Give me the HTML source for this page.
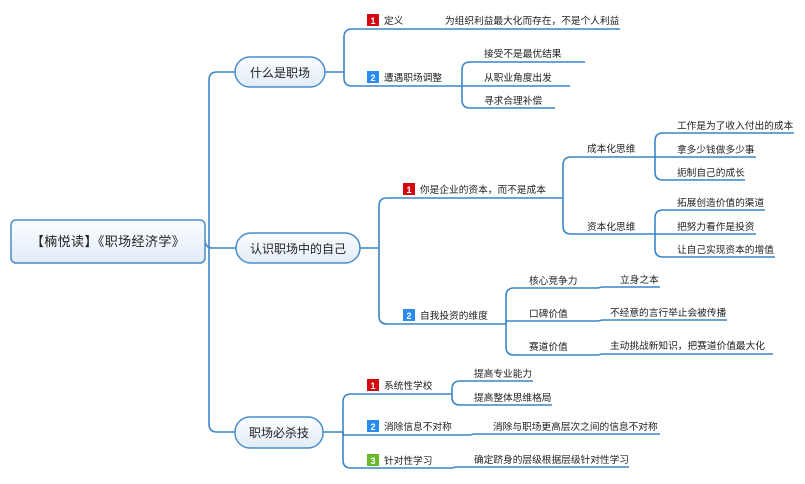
<!DOCTYPE html>
<html><head><meta charset="utf-8"><style>
html,body{margin:0;padding:0;background:#fff}
svg{display:block}
text{font-family:"Liberation Sans","Noto Sans CJK SC",sans-serif;fill:#222}
.l{fill:none;stroke:#3a85c6;stroke-width:1.6}
.t{font-size:9.7px}
.b{font-size:9px;font-weight:bold;fill:#fff}
</style></head><body>
<svg width="805" height="484" viewBox="0 0 805 484" xmlns="http://www.w3.org/2000/svg">
<defs>
<linearGradient id="g" x1="0" y1="0" x2="0" y2="1"><stop offset="0" stop-color="#fbfdff"/><stop offset="1" stop-color="#e2ecf7"/></linearGradient>
</defs>
<!-- trunk -->
<path class="l" d="M205 241 Q206 248 212 248 H236"/>
<path class="l" d="M209 248 V80 Q209 72 217 72 H235"/>
<path class="l" d="M209 248 V424 Q209 432 217 432 H235"/>

<!-- branch 1 -->
<path class="l" d="M325 72 H344"/>
<path class="l" d="M344 72 V37 Q344 29 352 29 H620"/>
<path class="l" d="M344 72 V78 Q344 86 352 86 H462"/>
<path class="l" d="M462 86 V70 Q462 62 470 62 H585"/>
<path class="l" d="M462 86 H570"/>
<path class="l" d="M462 86 V100 Q462 108 470 108 H555"/>

<!-- branch 2 -->
<path class="l" d="M360 248 H379"/>
<path class="l" d="M379 248 V206 Q379 198 387 198 H563"/>
<path class="l" d="M379 248 V316 Q379 324 387 324 H506"/>
<path class="l" d="M563 198 V165 Q563 157 571 157 H655"/>
<path class="l" d="M563 198 V226 Q563 234 571 234 H655"/>
<path class="l" d="M655 157 V141 Q655 133 663 133 H794"/>
<path class="l" d="M655 157 H756"/>
<path class="l" d="M655 157 V172 Q655 180 663 180 H745"/>
<path class="l" d="M655 234 V218 Q655 210 663 210 H765"/>
<path class="l" d="M655 234 H756"/>
<path class="l" d="M655 234 V249 Q655 257 663 257 H775"/>
<path class="l" d="M506 324 V296 Q506 288 514 288 H598 L602 287 H660"/>
<path class="l" d="M506 324 V321 H598 L602 320 H727"/>
<path class="l" d="M506 324 V347 Q506 355 514 355 H598 L602 354 H773"/>

<!-- branch 3 -->
<path class="l" d="M323 432 H343"/>
<path class="l" d="M343 432 V402 Q343 394 351 394 H452"/>
<path class="l" d="M343 432 V435 H470 L474 434 H660"/>
<path class="l" d="M343 432 V460 Q343 468 351 468 H452 L456 467 H629"/>
<path class="l" d="M452 394 V389 Q452 381 460 381 H533"/>
<path class="l" d="M452 394 V397 Q452 405 460 405 H552"/>

<!-- nodes -->
<rect x="11" y="220" width="194" height="43" rx="5" fill="url(#g)" stroke="#4a8cc8" stroke-width="1.5"/>
<text x="108" y="246" text-anchor="middle" font-size="13" letter-spacing="0.4">【楠悦读】《职场经济学》</text>
<rect x="235" y="57" width="90" height="30" rx="15" fill="url(#g)" stroke="#4a8cc8" stroke-width="1.5"/>
<text x="280" y="77" text-anchor="middle" font-size="12">什么是职场</text>
<rect x="236" y="233" width="124" height="30" rx="15" fill="url(#g)" stroke="#4a8cc8" stroke-width="1.5"/>
<text x="298" y="253" text-anchor="middle" font-size="12">认识职场中的自己</text>
<rect x="235" y="417" width="88" height="31" rx="15" fill="url(#g)" stroke="#4a8cc8" stroke-width="1.5"/>
<text x="279" y="437" text-anchor="middle" font-size="12">职场必杀技</text>

<!-- badges -->
<rect x="367" y="14" width="12" height="12" fill="#d4070f"/><text class="b" x="373" y="24" text-anchor="middle">1</text>
<rect x="367" y="71" width="12" height="12" fill="#2a8cf0"/><text class="b" x="373" y="81" text-anchor="middle">2</text>
<rect x="403" y="183" width="12" height="12" fill="#d4070f"/><text class="b" x="409" y="193" text-anchor="middle">1</text>
<rect x="403" y="309" width="12" height="12" fill="#2a8cf0"/><text class="b" x="409" y="319" text-anchor="middle">2</text>
<rect x="367" y="379" width="12" height="12" fill="#d4070f"/><text class="b" x="373" y="389" text-anchor="middle">1</text>
<rect x="367" y="420" width="12" height="12" fill="#2a8cf0"/><text class="b" x="373" y="430" text-anchor="middle">2</text>
<rect x="367" y="454" width="12" height="12" fill="#6ab82b"/><text class="b" x="373" y="464" text-anchor="middle">3</text>

<!-- labels -->
<text class="t" x="384" y="24">定义</text>
<text class="t" x="445" y="24">为组织利益最大化而存在，不是个人利益</text>
<text class="t" x="384" y="81">遭遇职场调整</text>
<text class="t" x="484" y="57">接受不是最优结果</text>
<text class="t" x="484" y="81">从职业角度出发</text>
<text class="t" x="484" y="104">寻求合理补偿</text>

<text class="t" x="420" y="193">你是企业的资本，而不是成本</text>
<text class="t" x="587" y="152">成本化思维</text>
<text class="t" x="587" y="230">资本化思维</text>
<text class="t" x="677" y="129">工作是为了收入付出的成本</text>
<text class="t" x="677" y="153">拿多少钱做多少事</text>
<text class="t" x="677" y="176">扼制自己的成长</text>
<text class="t" x="677" y="206">拓展创造价值的渠道</text>
<text class="t" x="677" y="230">把努力看作是投资</text>
<text class="t" x="677" y="253">让自己实现资本的增值</text>
<text class="t" x="420" y="319">自我投资的维度</text>
<text class="t" x="529" y="284">核心竞争力</text>
<text class="t" x="529" y="317">口碑价值</text>
<text class="t" x="529" y="350">赛道价值</text>
<text class="t" x="620" y="283">立身之本</text>
<text class="t" x="610" y="316">不经意的言行举止会被传播</text>
<text class="t" x="610" y="349">主动挑战新知识，把赛道价值最大化</text>

<text class="t" x="384" y="389">系统性学校</text>
<text class="t" x="474" y="377">提高专业能力</text>
<text class="t" x="474" y="401">提高整体思维格局</text>
<text class="t" x="384" y="430">消除信息不对称</text>
<text class="t" x="493" y="430">消除与职场更高层次之间的信息不对称</text>
<text class="t" x="384" y="464">针对性学习</text>
<text class="t" x="474" y="463">确定跻身的层级根据层级针对性学习</text>
</svg>
</body></html>
